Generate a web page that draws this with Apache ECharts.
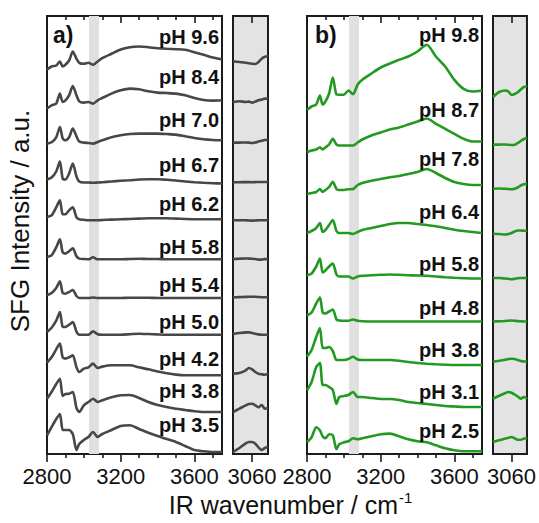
<!DOCTYPE html>
<html>
<head>
<meta charset="utf-8">
<script src="https://cdn.jsdelivr.net/npm/echarts@6/dist/echarts.min.js"></script>
<style>
html,body{margin:0;padding:0;background:#fff;}
#chart{width:539px;height:523px;}
</style>
</head>
<body>
<div id="chart"></div>
<script>
// ---------- DATA ----------
const wn = [2800, 2825, 2850, 2870, 2885, 2900, 2920, 2940, 2960, 2975, 3000, 3025, 3050, 3075, 3100, 3150, 3200, 3250, 3300, 3350, 3400, 3450, 3500, 3550, 3600, 3650, 3700, 3750];
const wnSide = [3030, 3040, 3050, 3055, 3060, 3065, 3070, 3075, 3080, 3085];

// panel a) labels and stacking offsets (a.u.)
const labelsA = ['pH 9.6', 'pH 8.4', 'pH 7.0', 'pH 6.7', 'pH 6.2', 'pH 5.8', 'pH 5.4', 'pH 5.0', 'pH 4.2', 'pH 3.8', 'pH 3.5'];
const offsetsA = [394.5, 353.7, 313.7, 270.5, 234.7, 194.7, 156, 119.3, 78.7, 42, 2];
const a96 = [-10, -7, -6, -2, -7, -5.3, -1, 8, 0.7, -3.3, -4.3, -3.3, -5.3, -2, 1.3, 5.7, 10, 12.3, 13, 12.3, 11.3, 10.7, 10.3, 9.7, 7.3, 4.7, 2, 0];
const a84 = [-8.3, -5, -3.3, 6.7, -1.7, 0, 5, 14.3, 5, -1, -2.3, -1.7, -3.3, 0, 2.3, 6.7, 10, 11.7, 11, 9, 7.7, 7.3, 6.7, 5, 2.3, 0.3, -0.3, 0];
const a70 = [-3.3, -2, 3, 13.3, 2, 0, 3, 11.7, 4, -1.3, -2.3, -2.7, -3.3, -1.7, 0, 3, 5, 6.3, 6.7, 6.7, 6.7, 6.3, 5.7, 4, 2.3, 1, 0.3, 0];
const a67 = [4, 6, 12, 22, 5, 4, 10, 20, 7, 2, 1, 1, 0.7, 1, 1.3, 2, 2.7, 3.3, 4, 4.3, 4.3, 3.7, 3, 2, 1.3, 0.7, 0.3, 0];
const a62 = [2.3, 4, 12, 19, 5, 5, 9, 12, 2, 0, -0.5, -1, -1, -1, -0.7, -0.3, 0, 0.3, 0.7, 1, 1, 1, 0.7, 0.3, 0, 0, 0, 0];
const a58 = [2.3, 4, 12, 20, 7, 5.7, 8, 11, 3, 0.7, 0.3, 0, 2, 0, 0, 0, 0, 0.3, 0.5, 0.3, 0.3, 0, 0, 0, 0, 0, 0, 0];
const a54 = [2.7, 5, 10, 16.7, 5, 4.3, 6, 8, 2, 0, 0, 0, 0.5, 0, 0, 0, 0, 0.3, 0.3, 0.3, 0, 0, 0, 0, 0, 0, 0, 0];
const a50 = [2.7, 7, 14, 22.7, 8, 7.7, 10, 12.7, 3, 0, 0, 0, 3.3, 0.5, 0, 0, 0, 0.5, 1, 0.7, 0.3, 0, 0, 0, 0, 0, 0, 0];
const a42 = [12.7, 18, 26, 31.7, 18, 16.7, 18, 20, 8, 3.3, 6.7, 8, 11.7, 7.3, 8.7, 10, 10, 10, 8, 6, 3.7, 2, 0.7, 0, 0, 0, 0, 0];
const a38 = [13.3, 20, 28, 33.3, 16, 18, 18.3, 20, 4, 0, 6.7, 10, 13.3, 10, 11.7, 14.7, 16.7, 17, 14, 10, 7, 5, 3.3, 2, 0.7, 0, 0, 0];
const a35 = [16.7, 25, 33, 38, 22, 22, 22, 18, 2, 8, 12, 15, 20, 15, 18, 22, 26, 26.7, 23, 19.3, 16, 13, 10, 6, 2, 0.7, 0, 0];
// panel a) side window (3030-3085 cm-1)
const sa96 = [-1.8, -2.5, -3.2, -3.8, -4.2, -4.5, -2.5, 0.8, 2.8, 3.2];
const sa84 = [-1.7, -1, -1.7, -1.3, -2.3, -1.3, 0, 0.7, 1.7, 1.7];
const sa70 = [-2.4, -2.3, -2.2, -2.3, -2.7, -2.2, -1.3, -0.5, 0.3, 0.6];
const sa67 = [1.3, 1.3, 1.4, 1.4, 1.3, 1.4, 1.5, 1.5, 1.5, 1.5];
const sa62 = [-1, -1, -1, -1.2, -1.3, -1.2, -1, -1, -1, -1];
const sa58 = [0.3, 0.6, 0.8, 0.7, 0.6, 0.3, -0.3, -0.3, 0.2, 0.3];
const sa54 = [0.7, 0.9, 1.1, 1.2, 1.3, 1.2, 1, 0.8, 0.7, 0.7];
const sa50 = [0.7, 1.7, 2.3, 2.3, 1.7, 1, 0.3, 0, 0, 0];
const sa42 = [1.6, 2.3, 5, 7.3, 6, 3.3, 1.6, 1, 0.6, 1.6];
const sa38 = [0, 3.3, 6.7, 8, 8.3, 6.7, 4.7, 7, 3.3, 4];
const sa35 = [0, 4, 8.7, 10, 10, 8.3, 4.7, 2, 4, 5];

// panel b) labels and stacking offsets (a.u.)
const labelsB = ['pH 9.8', 'pH 8.7', 'pH 7.8', 'pH 6.4', 'pH 5.8', 'pH 4.8', 'pH 3.8', 'pH 3.1', 'pH 2.5'];
const offsetsB = [363.5, 312.5, 269, 221, 175.5, 132.5, 89, 47, 2.7];
const b98 = [-19.3, -16, -14, -5, -14, -11, -3, 13, -4, -4.3, -4.3, 0, -3.7, 6, 10.7, 17, 23, 27, 30.7, 34, 39, 45.7, 34, 24, 10.7, 1.7, -1, 0];
const b87 = [-10.7, -9, -8, -5.7, -8, -6, -3, 2.7, -3, -4, -4, -4, -4, -1, 2, 6, 9, 12, 14, 17, 20, 23, 17.7, 12.7, 7.7, 2.7, 0, 0];
const b78 = [-9, -8, -7, -4, -7, -5, -2, 3.3, -4, -5, -5, -4.3, -4, 0, 2, 4.3, 6, 7.7, 9, 11, 13, 16, 12, 7, 3, 1, 0, 0];
const b64 = [0, 2, 5, 10, 1, 3, 8, 13, 2, 0, 0, 0, -1, 1, 3, 5, 7, 9, 10, 10, 9, 8, 6.7, 5, 3.3, 2, 1, 0];
const b58 = [3.3, 5, 12, 20, 6, 8, 12, 15, 4, 2, 2, 2, 0, 2, 2.7, 3.3, 3.7, 4, 3.7, 3.3, 3, 2.7, 2, 1.3, 0.7, 0.3, 0, 0];
const b48 = [6, 9, 18, 24, 9, 8, 10, 12, 2, 1, 0.7, 0.7, 2, 0.7, 0.3, 0, 0, 0, 0, 0, 0, 0, 0, 0, 0, 0, 0, 0];
const b38 = [8.3, 15, 28, 37, 17, 17, 18, 14, 5, 5, 5, 6, 8.3, 5.5, 5, 5, 5, 5, 4.3, 3, 2, 1.3, 0.7, 0.3, 0, 0, 0, 0];
const b31 = [16.7, 25, 40, 44, 22, 22, 20, 17, 3, 10, 11, 12, 15, 10, 10, 9, 8, 8, 7, 5, 4, 3, 2, 1, 0.5, 0, 0, 0];
const b25 = [9.3, 14, 24, 21, 15, 13, 17, 16, 2, 7, 9, 10, 13, 12, 13, 15, 17, 17.7, 15, 12, 10, 9, 6, 3, 1, 0, 0, 0];
// panel b) side window (3030-3085 cm-1)
const sb98 = [-6.5, -1.5, 0, -1, -4.5, -3.5, -1.8, 1, 3.5, 4.3];
const sb87 = [-3.2, -3.1, -3, -3.2, -3.5, -3.2, -1.5, 0.5, 2.5, 3.5];
const sb78 = [-3.7, -3.5, -3.8, -4, -4.3, -3.8, -2.5, -0.5, 0.8, 1.3];
const sb64 = [-0.7, -1, -1.5, -1, 0, 1.5, 2.5, 2.5, 2.3, 2.3];
const sb58 = [0.5, 0.5, 0, -0.3, -0.7, -0.3, 0.3, 0.5, 0.5, 0.5];
const sb48 = [0, 0.2, 0.5, 0.8, 1, 0.8, 0.4, 0.2, 0, 0];
const sb38 = [3.3, 4.3, 5.3, 6, 6.3, 6, 5, 4, 3.5, 3.5];
const sb31 = [8.3, 11.3, 14, 15, 14.3, 12.5, 10.5, 8.3, 10, 8.3];
const sb25 = [9.3, 11, 12.7, 13.5, 14.3, 13, 11.5, 11.5, 12.7, 13];

const mainTicksMajor = [2800, 3200, 3600];
const mainTicksMinor = [2900, 3000, 3100, 3300, 3400, 3500, 3700];
const sideTicks = [3060];
const band = [3028, 3082];

// ---------- LAYOUT / STYLE ----------
const FONT = "'Liberation Sans', Arial, Helvetica, sans-serif";
const INK = '#111';
const FRAME = '#1c1c1c';
const COLOR_A = '#474747';
const COLOR_B = '#229a22';
const labelYA = [417, 377, 334, 289.3, 250.3, 207, 168.7, 132, 95.3, 62.7, 28.7];
const labelYB = [418.7, 343.7, 295.3, 242, 190.3, 146, 103.7, 62, 22.7];
const labelX = 3734;

const specA = [a96, a84, a70, a67, a62, a58, a54, a50, a42, a38, a35];
const sideA = [sa96, sa84, sa70, sa67, sa62, sa58, sa54, sa50, sa42, sa38, sa35];
const specB = [b98, b87, b78, b64, b58, b48, b38, b31, b25];
const sideB = [sb98, sb87, sb78, sb64, sb58, sb48, sb38, sb31, sb25];

const grids = [
  {left: 47, width: 175, top: 16, height: 438, show: true, borderColor: FRAME, borderWidth: 2, backgroundColor: '#fff'},
  {left: 233, width: 35, top: 16, height: 438, show: true, borderColor: FRAME, borderWidth: 2, backgroundColor: '#e3e3e3'},
  {left: 307, width: 175, top: 16, height: 438, show: true, borderColor: FRAME, borderWidth: 2, backgroundColor: '#fff'},
  {left: 493, width: 35, top: 16, height: 438, show: true, borderColor: FRAME, borderWidth: 2, backgroundColor: '#e3e3e3'}
];

function axisSet(g, min, max, major, minor, labels) {
  const base = {gridIndex: g, type: 'value', min: min, max: max, splitLine: {show: false}, axisLine: {show: false}};
  const tickStyle = {color: FRAME, width: 1.6};
  const out = [];
  out.push(Object.assign({}, base, {position: 'bottom',
    axisTick: {show: true, inside: false, length: 8, customValues: major, lineStyle: tickStyle},
    axisLabel: {show: true, customValues: labels, formatter: v => String(v), fontSize: 22, fontFamily: FONT, color: INK, margin: 11}}));
  out.push(Object.assign({}, base, {position: 'bottom',
    axisTick: {show: minor.length > 0, inside: false, length: 4, customValues: minor.length ? minor : [min], lineStyle: tickStyle},
    axisLabel: {show: false}}));
  out.push(Object.assign({}, base, {position: 'top',
    axisTick: {show: true, inside: true, length: 7, customValues: major, lineStyle: tickStyle},
    axisLabel: {show: false}}));
  out.push(Object.assign({}, base, {position: 'top',
    axisTick: {show: minor.length > 0, inside: true, length: 4, customValues: minor.length ? minor : [min], lineStyle: tickStyle},
    axisLabel: {show: false}}));
  return out;
}

const xAxes = [].concat(
  axisSet(0, 2800, 3750, mainTicksMajor, mainTicksMinor, mainTicksMajor),
  axisSet(1, 3030, 3085, sideTicks, [], sideTicks),
  axisSet(2, 2800, 3750, mainTicksMajor, mainTicksMinor, mainTicksMajor),
  axisSet(3, 3030, 3085, sideTicks, [], sideTicks)
);
const yAxes = [0, 1, 2, 3].map(g => ({gridIndex: g, type: 'value', min: 0, max: 438, show: false}));

const series = [];
function bandSeries(g) {
  series.push({type: 'line', xAxisIndex: 4 * g, yAxisIndex: g, data: [], silent: true,
    markArea: {silent: true, itemStyle: {color: '#e0e0e0'}, data: [[{xAxis: band[0]}, {xAxis: band[1]}]]}});
}
function addTraces(g, xs, specs, offsets, color, labels, labelY) {
  specs.forEach((vals, i) => {
    const s = {
      type: 'line', xAxisIndex: 4 * g, yAxisIndex: g, z: 3,
      data: xs.map((x, j) => [x, offsets[i] + vals[j]]),
      symbol: 'none', smooth: 0.25, silent: true,
      lineStyle: {color: color, width: 2.6}
    };
    if (labels) {
      s.markPoint = {
        symbol: 'circle', symbolSize: 0, silent: true,
        data: [{coord: [labelX, labelY[i]], name: labels[i]}],
        label: {show: true, position: 'left', distance: 0, formatter: labels[i],
          fontSize: 20, fontWeight: 'bold', fontFamily: FONT, color: INK}
      };
    }
    series.push(s);
  });
}
bandSeries(0);
bandSeries(2);
addTraces(0, wn, specA, offsetsA, COLOR_A, labelsA, labelYA);
addTraces(1, wnSide, sideA, offsetsA, COLOR_A, null, null);
addTraces(2, wn, specB, offsetsB, COLOR_B, labelsB, labelYB);
addTraces(3, wnSide, sideB, offsetsB, COLOR_B, null, null);

const chart = echarts.init(document.getElementById('chart'), null, {renderer: 'svg', width: 539, height: 523});
chart.setOption({
  animation: false,
  backgroundColor: '#fff',
  grid: grids,
  xAxis: xAxes,
  yAxis: yAxes,
  series: series,
  graphic: [
    {type: 'text', x: 53, y: 35, style: {text: 'a)', font: 'bold 23px ' + FONT, fill: INK, textVerticalAlign: 'middle'}},
    {type: 'text', x: 315, y: 35, style: {text: 'b)', font: 'bold 23px ' + FONT, fill: INK, textVerticalAlign: 'middle'}},
    {type: 'text', x: 20, y: 221, rotation: Math.PI / 2,
      style: {text: 'SFG Intensity / a.u.', font: '26px ' + FONT, fill: INK, textAlign: 'center', textVerticalAlign: 'middle'}},
    {type: 'text', x: 398, y: 505,
      style: {text: 'IR wavenumber / cm', font: '25px ' + FONT, fill: INK, textAlign: 'right', textVerticalAlign: 'middle'}},
    {type: 'text', x: 399, y: 497,
      style: {text: '-1', font: '15px ' + FONT, fill: INK, textAlign: 'left', textVerticalAlign: 'middle'}}
  ]
});
</script>
</body>
</html>
